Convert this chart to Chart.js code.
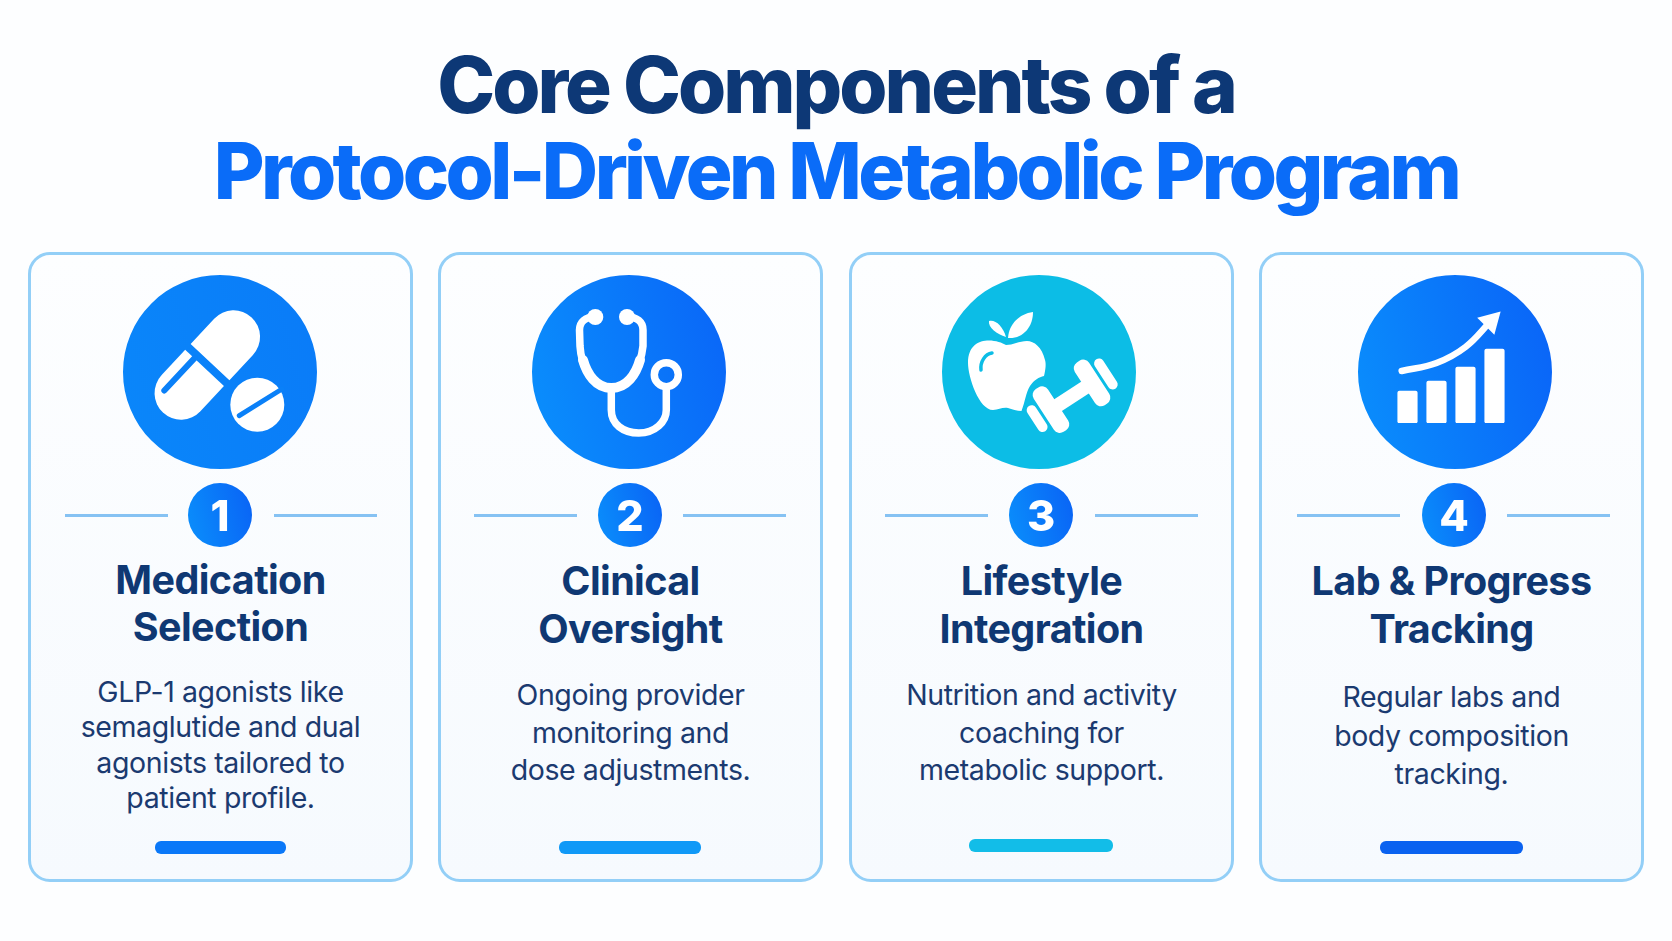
<!DOCTYPE html>
<html>
<head>
<meta charset="utf-8">
<title>Core Components</title>
<script src="https://cdn.jsdelivr.net/npm/chart.js@4/dist/chart.umd.min.js"></script>
<style>
  body { margin: 0; width: 1672px; height: 941px; background: #fdfeff; overflow: hidden; position: relative; font-family: Inter, "Noto Sans", sans-serif; }
  h1 { position: absolute; left: 0; width: 1672px; margin: 0; text-align: center; font-size: 78px; line-height: 86px; font-weight: 800; white-space: nowrap; }
  #t1 { top: 42px; color: #0d3876; letter-spacing: -3px; }
  #t2 { top: 128px; color: #0a6cf8; letter-spacing: -3.6px; }
  .card { position: absolute; top: 252px; width: 385px; height: 630px; box-sizing: border-box; border: 3px solid #93cff7; border-radius: 22px; background: linear-gradient(180deg, #fdfeff 0%, #f6fafe 100%); }
  #card0 { left: 28px; } #card1 { left: 438px; } #card2 { left: 849px; } #card3 { left: 1259px; }
  canvas { position: absolute; }
  svg { position: absolute; overflow: visible; }
  .rule { position: absolute; height: 3px; top: 258.5px; background: #86c2f3; width: 103px; }
  .digit { position: absolute; top: 228px; width: 64px; height: 64px; line-height: 64px; text-align: center; color: #fff; font-size: 43px; font-weight: 800; }
  .name { position: absolute; left: 0; width: 379px; text-align: center; font-size: 39.5px; line-height: 47px; font-weight: 700; color: #0f3873; letter-spacing: -0.6px; white-space: nowrap; }
  .desc { position: absolute; left: 0; width: 379px; text-align: center; font-size: 28.5px; line-height: 35px; font-weight: 400; color: #1b3a70; letter-spacing: -0.4px; white-space: nowrap; }
  .foot { position: absolute; height: 12.5px; border-radius: 6px; }
</style>
</head>
<body>
<h1 id="t1">Core Components of a</h1>
<h1 id="t2">Protocol-Driven Metabolic Program</h1>

<script>
// Tarjetas
const cardTitles = [["Medication", "Selection"], ["Clinical", "Oversight"], ["Lifestyle", "Integration"], ["Lab & Progress", "Tracking"]];
const cardTexts = [
  ["GLP-1 agonists like", "semaglutide and dual", "agonists tailored to", "patient profile."],
  ["Ongoing provider", "monitoring and", "dose adjustments."],
  ["Nutrition and activity", "coaching for", "metabolic support."],
  ["Regular labs and", "body composition", "tracking."]
];
const cardNumbers = ["1", "2", "3", "4"];

// Icono de la tarjeta 4: barras y flecha
const growthLabels = ["a", "b", "c", "d"];
const growthBars = [32, 42, 56, 74];
const trendX = [0.3, 1.5, 2.5, 3.37];
const trendY = [52, 60, 76, 101.7];

// Colores y posiciones por tarjeta
const circleColors = [["#0a86fa", "#0a7cf8"], ["#0a8dfc", "#0a68f8"], ["#0cbde6", "#0cbde6"], ["#0a8cfc", "#0a66f8"]];
const badgeColors = ["#0a8cfb", "#0a66f6"];
const footColors = ["#0a78f8", "#1099f7", "#12bde8", "#0a62f0"];
const circleX = [189, 188, 187, 193];
const badgeX = [189, 189, 189, 192];
const ruleX = [[34, 243], [33, 242], [33, 243], [35, 245]];
const nameTop = [[302, 349], [303, 351], [303, 351], [303, 351]];
const descTop = [419, 422, 422, 424];
const descStep = [35.3, 37.5, 37.7, 38.7];
const footBox = [[124, 586, 131], [118, 586, 141.7], [117, 584, 143.7], [118, 586, 143]];

const icons = [
  `<g transform="translate(-12.7,-7) rotate(-47)" fill="#fff">
     <path d="M4 -26.5 H38.5 A26.5 26.5 0 0 1 38.5 26.5 H4 Z"/>
     <path d="M-4 -26.5 H-38.5 A26.5 26.5 0 0 0 -38.5 26.5 H-4 Z"/>
     <path d="M-3 -14 H-48" stroke="#0a80f8" stroke-width="6" stroke-linecap="round" fill="none"/>
   </g>
   <circle cx="37.3" cy="32.7" r="27" fill="#fff"/>
   <path d="M19.3 43.7 L62 17" stroke="#0a80f8" stroke-width="5" stroke-linecap="round" fill="none"/>`,
  `<g fill="none" stroke="#fff" stroke-width="7.5" stroke-linecap="round">
     <path d="M-33.7 -55 C-44 -55 -49.5 -50 -49.5 -42 L-49 -26 C-48 -8 -38 16 -17.7 16 C2 16 12 -8 14 -26 L14 -42 C14 -50 8 -55 -2 -55"/>
     <path d="M-46 -12 C-42 2 -33 16 -17.7 16 C-2 16 7 2 11 -12" stroke-width="10"/>
     <path d="M-17.7 16 V38 C-17.7 52 -6 61 9.8 61 C26 61 37.3 50 37.3 38 V15"/>
     <circle cx="37.3" cy="2.7" r="12"/>
   </g>
   <circle cx="-33.7" cy="-55" r="8" fill="#fff"/><circle cx="-2" cy="-55" r="8" fill="#fff"/>`,
  `<g fill="#fff">
     <path d="M-33 -27 C-42 -33 -71 -38 -71 -9 C-71 5 -60 38 -46 38 C-40 38 -37 35 -31 36 C-27 37 -22 39 -17.5 39 C-14 30 -13 20 -9 14 C-5 8 0 5 5 4 C7 -4 7 -9 6 -12 C3 -25 -5 -31 -12 -31 C-20 -31 -26 -27 -33 -27 Z"/>
     <path d="M-31 -34 C-30 -48 -20 -58 -6 -60 C-6 -45 -16 -33 -31 -34 Z"/>
     <path d="M-33 -35 C-42 -38 -51 -44 -50 -51 C-44 -53 -36 -46 -33 -35 Z"/>
     <g transform="translate(32.5,24.3) rotate(-33)">
       <rect x="-22" y="-7" width="44" height="14"/>
       <rect x="-33" y="-25.5" width="17" height="51" rx="7"/>
       <rect x="16" y="-25.5" width="17" height="51" rx="7"/>
       <rect x="-46" y="-15" width="10" height="30" rx="5"/>
       <rect x="36" y="-17.5" width="10" height="35" rx="5"/>
     </g>
   </g>
   <path d="M-58 -2 C-59 -10 -54 -18 -47 -19" stroke="#0cbde6" stroke-width="3.5" stroke-linecap="round" fill="none"/>`,
  ""
];

// Círculo con degradado (una sola porción)
function disc(parent, cx, cy, r, colors) {
  const c = document.createElement("canvas");
  c.style.left = cx - r + "px";
  c.style.top = cy - r + "px";
  c.style.width = r * 2 + "px";
  c.style.height = r * 2 + "px";
  parent.appendChild(c);
  new Chart(c, {
    type: "doughnut",
    data: {
      labels: ["all"],
      datasets: [{
        data: [1],
        borderWidth: 0,
        backgroundColor: (ctx) => {
          const g = ctx.chart.ctx.createLinearGradient(0, r * 1.3, r * 2, r * 0.8);
          g.addColorStop(0, colors[0]);
          g.addColorStop(1, colors[1]);
          return g;
        }
      }]
    },
    options: {
      responsive: false,
      animation: false,
      cutout: 0,
      layout: { padding: 0, autoPadding: false },
      plugins: { legend: { display: false }, tooltip: { enabled: false } }
    }
  });
}

cardTitles.forEach((title, i) => {
  const card = document.createElement("div");
  card.className = "card";
  card.id = "card" + i;
  document.body.appendChild(card);

  disc(card, circleX[i], 117, 97, circleColors[i]);

  if (icons[i]) {
    const svg = document.createElementNS("http://www.w3.org/2000/svg", "svg");
    svg.setAttribute("width", "1");
    svg.setAttribute("height", "1");
    svg.style.left = circleX[i] + "px";
    svg.style.top = "117px";
    svg.innerHTML = icons[i];
    card.appendChild(svg);
  }

  ruleX[i].forEach((x) => {
    const r = document.createElement("div");
    r.className = "rule";
    r.style.left = x + "px";
    card.appendChild(r);
  });

  disc(card, badgeX[i], 260, 32, badgeColors);

  const d = document.createElement("div");
  d.className = "digit";
  d.style.left = badgeX[i] - 32 + "px";
  d.textContent = cardNumbers[i];
  card.appendChild(d);

  title.forEach((line, k) => {
    const n = document.createElement("div");
    n.className = "name";
    n.style.top = nameTop[i][k] + "px";
    n.textContent = line;
    card.appendChild(n);
  });

  cardTexts[i].forEach((line, k) => {
    const t = document.createElement("div");
    t.className = "desc";
    t.style.top = descTop[i] + k * descStep[i] + "px";
    t.textContent = line;
    card.appendChild(t);
  });

  const f = document.createElement("div");
  f.className = "foot";
  f.style.left = footBox[i][0] + "px";
  f.style.top = footBox[i][1] + "px";
  f.style.width = footBox[i][2] + "px";
  f.style.background = footColors[i];
  card.appendChild(f);
});

// Gráfica del icono 4
const growth = document.createElement("canvas");
growth.width = 116;
growth.height = 120;
growth.style.left = circleX[3] - 62 + "px";
growth.style.top = 117 + 51 - 120 + "px";
document.getElementById("card3").appendChild(growth);
new Chart(growth, {
  type: "bar",
  data: {
    labels: growthLabels,
    datasets: [
      {
        data: growthBars,
        backgroundColor: "#fff",
        barThickness: 19.5,
        borderRadius: 2,
        borderSkipped: false,
        grouped: false
      },
      {
        type: "line",
        data: trendX.map((x, i) => ({ x: x, y: trendY[i] })),
        xAxisID: "x2",
        borderColor: "#fff",
        backgroundColor: "#fff",
        borderWidth: 6.5,
        borderCapStyle: "round",
        tension: 0.4,
        clip: false,
        pointStyle: "triangle",
        pointRotation: 45,
        pointRadius: [0, 0, 0, 14],
        pointBorderWidth: 0
      }
    ]
  },
  options: {
    responsive: false,
    animation: false,
    layout: { padding: 0, autoPadding: false },
    plugins: { legend: { display: false }, tooltip: { enabled: false } },
    scales: {
      x: { display: false, offset: true },
      x2: { type: "linear", display: false, min: 0, max: 4, offset: false },
      y: { display: false, min: 0, max: 120 }
    }
  }
});
</script>
</body>
</html>
